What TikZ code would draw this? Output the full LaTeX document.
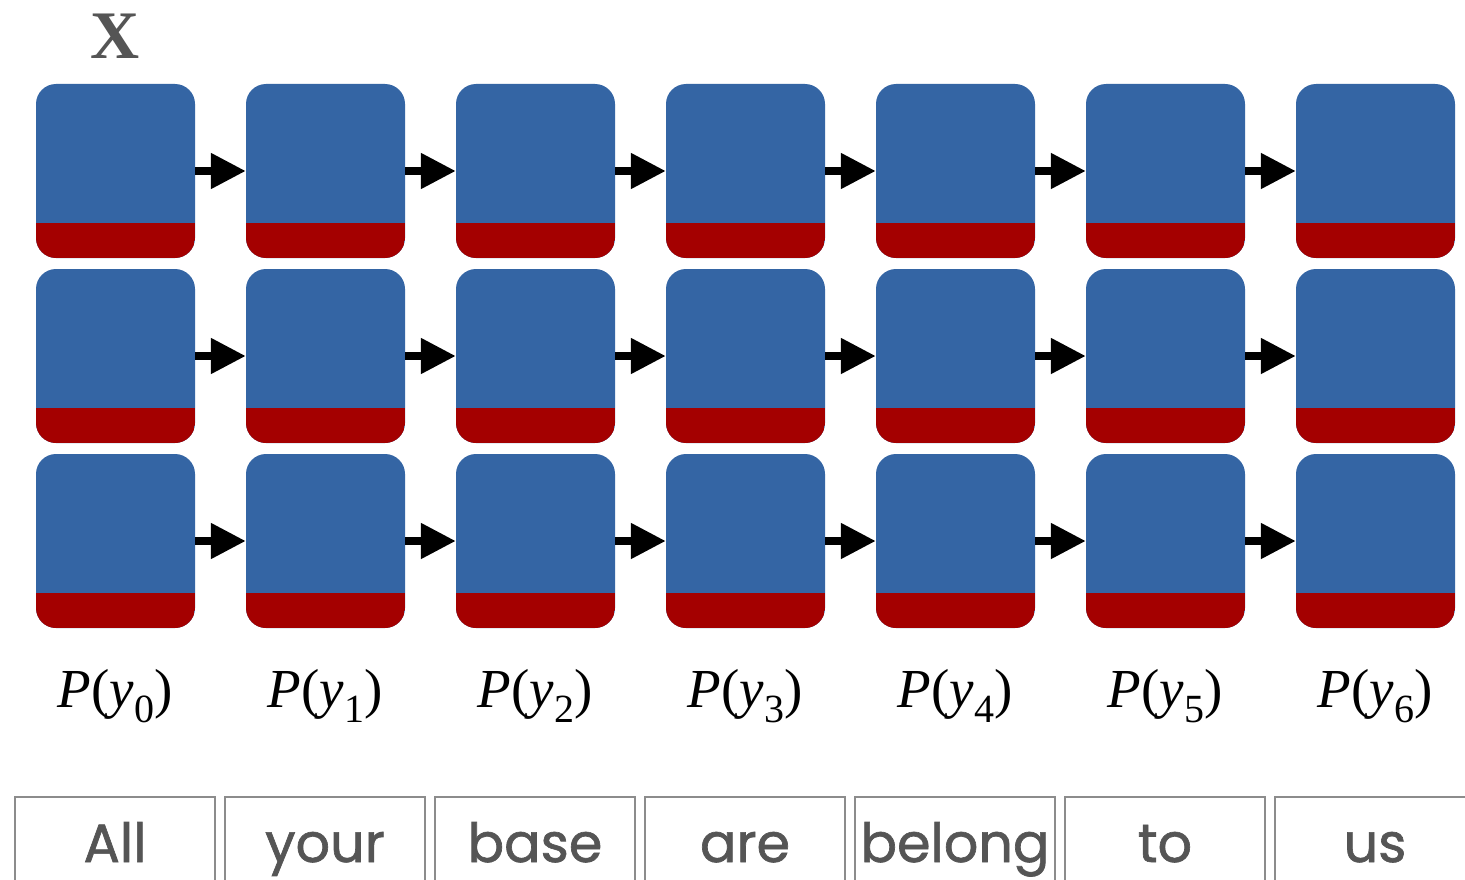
\documentclass[tikz,border=0pt]{standalone}
\usepackage{fontspec}
\setmainfont{Liberation Serif}
\newfontfamily\wordfont[FakeBold=1.2]{Poppins}
\usetikzlibrary{arrows.meta}
\definecolor{cellblue}{HTML}{3465A4}
\definecolor{cellred}{HTML}{A40000}
\definecolor{inkgray}{HTML}{555555}
\definecolor{framegray}{HTML}{8C8C8C}
\tikzset{
  cell/.style={rectangle, rounded corners=20pt, minimum width=159pt, minimum height=174pt,
    inner sep=0pt, fill=cellblue,
    path picture={\fill[cellred, sharp corners] (path picture bounding box.south west) rectangle ([yshift=35pt]path picture bounding box.south east);}},
  link/.style={line width=8pt, -{Triangle[length=35pt,width=34pt]}},
  plabel/.style={anchor=base, inner sep=0pt, font=\fontsize{55}{60}\selectfont},
  wordbox/.style={rectangle, draw=framegray, line width=2pt, minimum width=200pt, minimum height=120pt, inner sep=0pt},
  wordtext/.style={anchor=base, inner sep=0pt, text=inkgray, font=\wordfont\fontsize{54}{60}\selectfont},
}
\newcommand{\plab}[1]{\textit{P}(\textit{y}\raisebox{-0.28em}{\fontsize{40}{40}\selectfont #1})}
\begin{document}
\begin{tikzpicture}[x=1pt,y=-1pt]
  \clip (0,0) rectangle (1465,880);
  \fill[white] (0,0) rectangle (1465,880);

  \node[anchor=base, inner sep=0pt, text=inkgray, font=\fontsize{68}{70}\selectfont\bfseries] (xin) at (115,59) {X};

  % grid of cells, three rows of seven
  \foreach \r/\y in {0/171,1/356,2/541}{
    \foreach \c in {0,...,6}{
      \node[cell] (b-\r-\c) at (115.5+210*\c,\y) {};
    }
  }
  % links along each row
  \foreach \r in {0,1,2}{
    \foreach \c [evaluate=\c as \n using int(\c+1)] in {0,...,5}{
      \draw[link] (b-\r-\c.east) -- (b-\r-\n.west);
    }
  }

  % output distributions
  \foreach \c in {0,...,6}{
    \node[plabel] (p-\c) at (115+210*\c,707) {\plab{\c}};
  }

  % input words
  \foreach \w [count=\i from 0] in {All,your,base,are,belong,to,us}{
    \node[wordbox] (wb-\i) at (115+210*\i,857) {};
    \node[wordtext] (w-\i) at (wb-\i.center |- 0,862) {\w};
  }
\end{tikzpicture}
\end{document}
